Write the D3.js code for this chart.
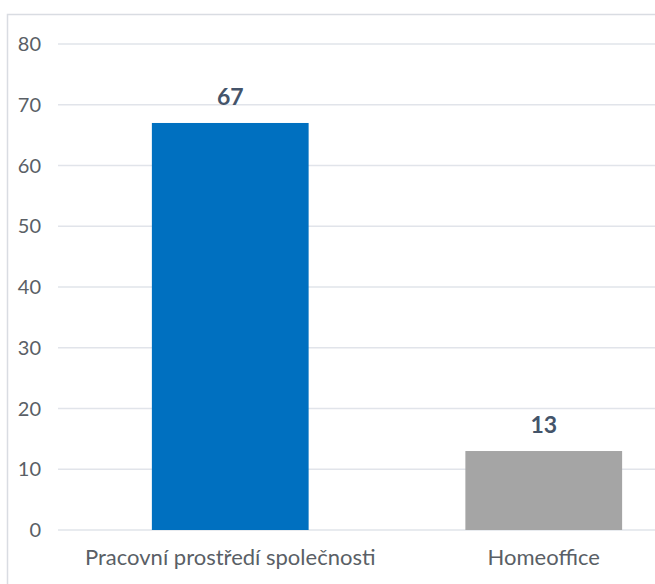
<!DOCTYPE html>
<meta charset="utf-8">
<style>
body { margin: 0; background: #fff; }
svg { display: block; font-family: Lato, "Open Sans", sans-serif; }
.grid line { stroke: #e1e4ea; stroke-width: 1.5px; }
.axis text { fill: #5a5f66; }
.value { fill: #44546a; font-size: 23px; font-weight: bold; }
</style>
<body>
<div id="chart"></div>
<script src="https://d3js.org/d3.v7.min.js"></script>
<script>
var categories = ["Pracovní prostředí společnosti", "Homeoffice"];
var values = [67, 13];
var colors = ["#0070c0", "#a5a5a5"];
var yTicks = [0, 10, 20, 30, 40, 50, 60, 70, 80];

var width = 655, height = 584;

var svg = d3.select("#chart").append("svg")
    .attr("width", width)
    .attr("height", height);

// chart frame, cut off by the picture on the right and bottom
svg.append("rect")
    .attr("x", 7.5).attr("y", 14.5)
    .attr("width", 700).attr("height", 600)
    .attr("fill", "none")
    .attr("stroke", "#d9dce2")
    .attr("stroke-width", 1.5);

var y = d3.scaleLinear().domain([0, 80]).range([530, 44]);
var x = d3.scaleBand()
    .domain(categories)
    .range([73.5, 700.5])
    .paddingInner(0.5)
    .paddingOuter(0.25);

var grid = svg.append("g").attr("class", "grid");
grid.selectAll("line")
    .data(yTicks)
  .enter().append("line")
    .attr("x1", 58).attr("x2", width)
    .attr("y1", function(d) { return y(d); })
    .attr("y2", function(d) { return y(d); });

var yAxis = svg.append("g").attr("class", "axis");
yAxis.selectAll("text")
    .data(yTicks)
  .enter().append("text")
    .attr("x", 41)
    .attr("y", function(d) { return y(d); })
    .attr("dy", "0.35em")
    .attr("text-anchor", "end")
    .style("font-size", "20px")
    .text(function(d) { return d; });

svg.selectAll(".bar")
    .data(values)
  .enter().append("rect")
    .attr("class", "bar")
    .attr("x", function(d, i) { return x(categories[i]); })
    .attr("y", function(d) { return y(d); })
    .attr("width", x.bandwidth())
    .attr("height", function(d) { return y(0) - y(d); })
    .attr("fill", function(d, i) { return colors[i]; });

svg.selectAll(".value")
    .data(values)
  .enter().append("text")
    .attr("class", "value")
    .attr("x", function(d, i) { return x(categories[i]) + x.bandwidth() / 2; })
    .attr("y", function(d) { return y(d) - 18; })
    .attr("text-anchor", "middle")
    .text(function(d) { return d; });

var xAxis = svg.append("g").attr("class", "axis");
xAxis.selectAll("text")
    .data(categories)
  .enter().append("text")
    .attr("x", function(d) { return x(d) + x.bandwidth() / 2; })
    .attr("y", 565)
    .attr("text-anchor", "middle")
    .style("font-size", "22px")
    .text(function(d) { return d; });
</script>
